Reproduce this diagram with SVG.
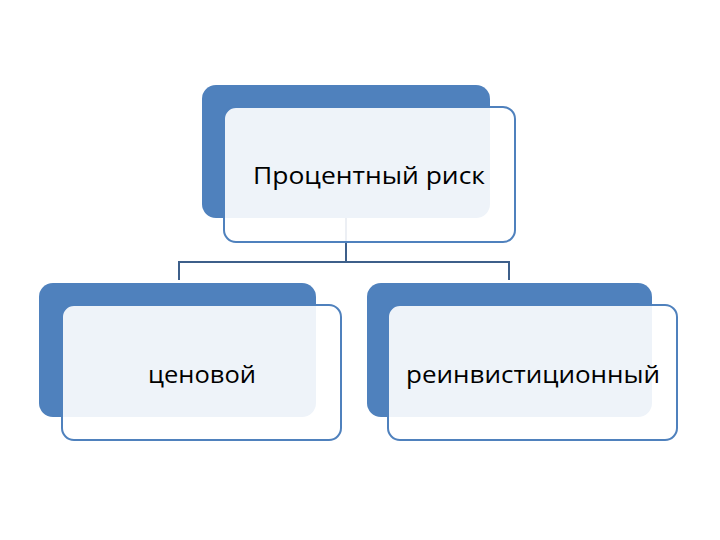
<svg xmlns="http://www.w3.org/2000/svg" width="720" height="540" viewBox="0 0 720 540">
<style>
.back{fill:#4F81BD}
.front{fill:#FFFFFF;fill-opacity:0.9;stroke:#4F81BD;stroke-width:2}
.lbl{font-family:"Open Sans","Liberation Sans",sans-serif;font-size:24px;fill:#000;text-anchor:middle}
.conn{fill:none;stroke:#3D5F8A;stroke-width:2}
</style>
<rect width="720" height="540" fill="#FFFFFF"/>
<g id="connectors">
<path class="conn" d="M346 218 V262 M179 280 V262 H509 V280"/>
</g>
<g id="node-top">
<rect class="back" x="202" y="85" width="288" height="133" rx="14"/>
<rect class="front" x="224" y="107" width="291" height="135" rx="12"/>
<text class="lbl" x="369" y="184" textLength="232" lengthAdjust="spacingAndGlyphs">Процентный риск</text>
</g>
<g id="node-left">
<rect class="back" x="39" y="283" width="277" height="134" rx="14"/>
<rect class="front" x="62" y="305" width="279" height="135" rx="12"/>
<text class="lbl" x="202" y="383" textLength="108" lengthAdjust="spacingAndGlyphs">ценовой</text>
</g>
<g id="node-right">
<rect class="back" x="367" y="283" width="285" height="134" rx="14"/>
<rect class="front" x="388" y="305" width="289" height="135" rx="12"/>
<text class="lbl" x="533" y="383" textLength="254" lengthAdjust="spacingAndGlyphs">реинвистиционный</text>
</g>
</svg>
